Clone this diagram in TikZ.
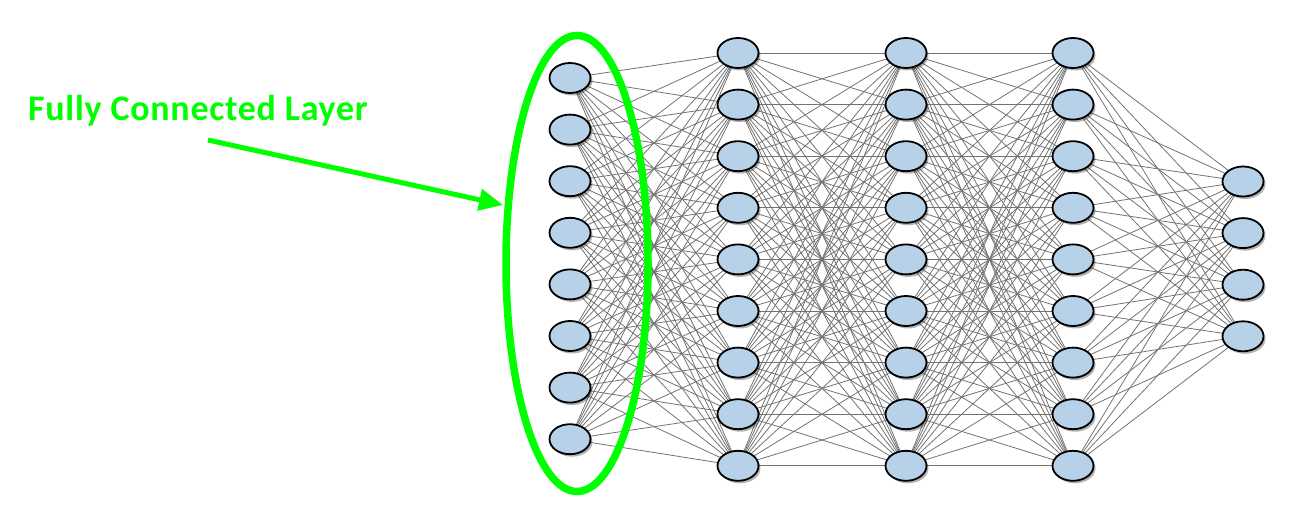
\documentclass[tikz,border=0pt]{standalone}
\usepackage{fontspec}
\newfontfamily\calibfont[LetterSpace=2]{Carlito}
\usetikzlibrary{shapes.geometric,shadows,arrows.meta,backgrounds}
\definecolor{neuroncol}{HTML}{B7D2E8}
\definecolor{brightgreen}{HTML}{00FF00}
\begin{document}
\begin{tikzpicture}[x=1pt,y=-1pt,
  neuron/.style={ellipse, draw=black, line width=1.8pt, fill=neuroncol,
    minimum width=41pt, minimum height=30pt, inner sep=0pt,
    drop shadow={shadow xshift=2pt, shadow yshift=-2.5pt, fill=black, opacity=0.3}},
  synapse/.style={draw=black!55, line width=0.8pt},
  fcring/.style={ellipse, draw=brightgreen, line width=7.5pt, minimum width=142pt,
    minimum height=456pt, inner sep=0pt},
  fcarrow/.style={draw=brightgreen, line width=5pt, -{Triangle[length=24pt,width=21pt]}},
  fclabel/.style={font=\calibfont\bfseries\fontsize{36}{42}\selectfont, text=brightgreen,
    anchor=base west, inner sep=0pt}]
\useasboundingbox (0,0) rectangle (1300,529);
% neurons
\foreach \i in {0,...,7} \node[neuron] (a\i) at (570,78+51.6*\i) {};
\foreach \i in {0,...,8} \node[neuron] (b\i) at (738,53+51.6*\i) {};
\foreach \i in {0,...,8} \node[neuron] (c\i) at (906,53+51.6*\i) {};
\foreach \i in {0,...,8} \node[neuron] (d\i) at (1073,53+51.6*\i) {};
\foreach \i in {0,...,3} \node[neuron] (e\i) at (1243,181.5+51.6*\i) {};
% connections
\begin{pgfonlayer}{background}
\foreach \i in {0,...,7} \foreach \j in {0,...,8} \draw[synapse] (a\i.center) -- (b\j.center);
\foreach \i in {0,...,8} \foreach \j in {0,...,8} \draw[synapse] (b\i.center) -- (c\j.center);
\foreach \i in {0,...,8} \foreach \j in {0,...,8} \draw[synapse] (c\i.center) -- (d\j.center);
\foreach \i in {0,...,8} \foreach \j in {0,...,3} \draw[synapse] (d\i.center) -- (e\j.center);
\end{pgfonlayer}
% highlight
\node[fcring] (fc) at (577,263.5) {};
\node[fclabel] (lbl) at (28,120.5) {Fully Connected Layer};
\coordinate (tail) at (208,140);
\coordinate (tip) at (503,205);
\draw[fcarrow] (tail) -- (tip);
\end{tikzpicture}
\end{document}
